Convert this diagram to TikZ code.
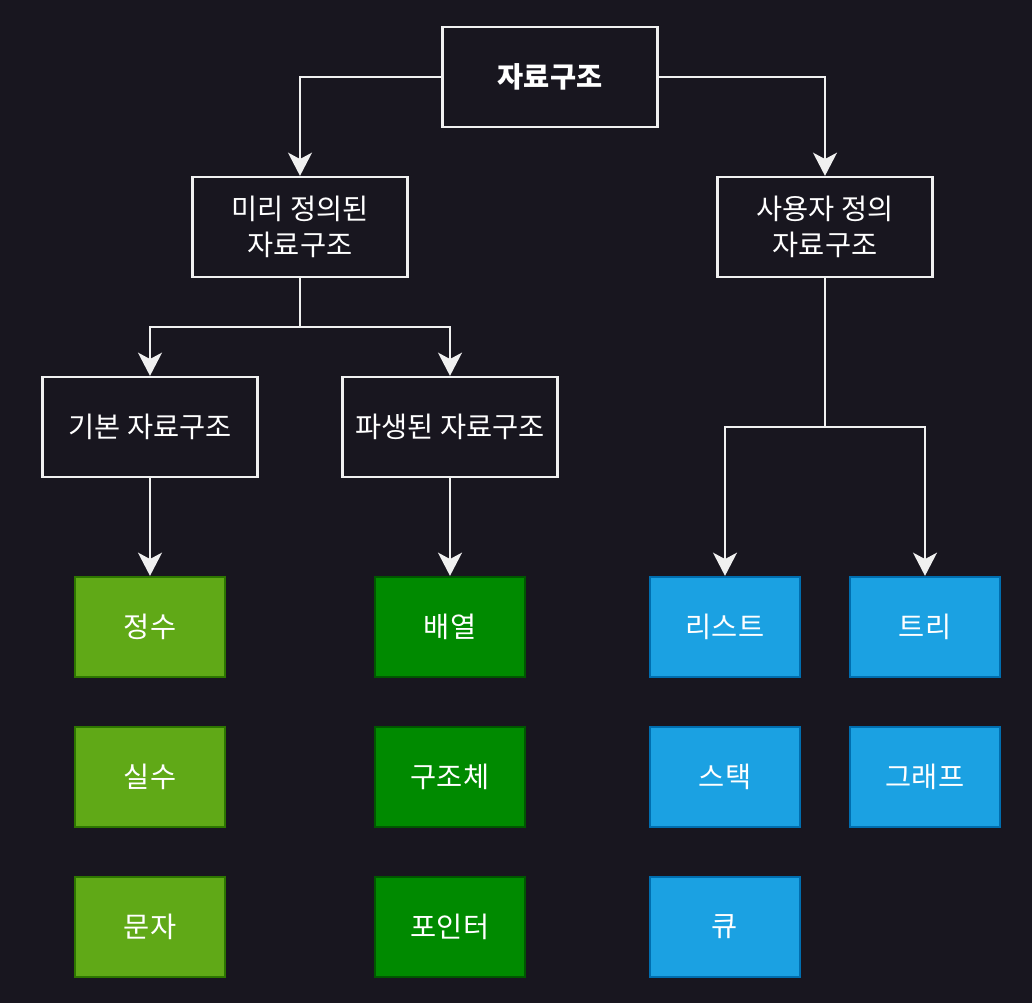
\documentclass[tikz,border=0pt]{standalone}
\usepackage{fontspec}
\setmainfont{Noto Sans CJK KR}
\usetikzlibrary{arrows.meta}

\definecolor{bg}{HTML}{18161F}
\definecolor{linec}{HTML}{F0F0F0}
\definecolor{lgreen}{HTML}{60A917}
\definecolor{lgreenb}{HTML}{2D7600}
\definecolor{dgreen}{HTML}{008A00}
\definecolor{dgreenb}{HTML}{005700}
\definecolor{lblue}{HTML}{1BA1E2}
\definecolor{lblueb}{HTML}{006EAF}

\tikzset{
  box/.style={rectangle,draw=linec,line width=1.6pt,text=white,align=center,
    minimum width=5.375cm,minimum height=2.5cm,font=\fontsize{20.2}{26}\selectfont},
  leaf/.style={box,minimum width=3.75cm},
  basic/.style={leaf,fill=lgreen,draw=lgreenb},
  derived/.style={leaf,fill=dgreen,draw=dgreenb},
  user/.style={leaf,fill=lblue,draw=lblueb},
  link/.style={draw=linec,line width=1.5pt,-{Stealth[length=0.58cm,width=0.6cm,inset=0.16cm]}}
}

\begin{document}
\begin{tikzpicture}[x=0.025cm,y=-0.025cm]
\fill[bg] (0,0) rectangle (1032,1003);

\node[box,font=\fontsize{20.2}{26}\selectfont\bfseries] (ds) at (550,77) {자료구조};
\node[box] (pre) at (300,227) {미리 정의된\\자료구조};
\node[box] (usr) at (825,227) {사용자 정의\\자료구조};
\node[box] (prim) at (150,427) {기본 자료구조};
\node[box] (der) at (450,427) {파생된 자료구조};

\node[basic] (int) at (150,627) {정수};
\node[basic] (real) at (150,777) {실수};
\node[basic] (char) at (150,927) {문자};
\node[derived] (arr) at (450,627) {배열};
\node[derived] (struct) at (450,777) {구조체};
\node[derived] (ptr) at (450,927) {포인터};
\node[user] (list) at (725,627) {리스트};
\node[user] (tree) at (925,627) {트리};
\node[user] (stack) at (725,777) {스택};
\node[user] (graph) at (925,777) {그래프};
\node[user] (queue) at (725,927) {큐};

\coordinate (j1) at (300,327);
\coordinate (j2) at (825,427);

\draw[link] (ds.west) -| (pre.north);
\draw[link] (ds.east) -| (usr.north);
\draw[draw=linec,line width=1.5pt] (pre.south) -- (j1);
\draw[link] (j1) -| (prim.north);
\draw[link] (j1) -| (der.north);
\draw[draw=linec,line width=1.5pt] (usr.south) -- (j2);
\draw[link] (j2) -| (list.north);
\draw[link] (j2) -| (tree.north);
\draw[link] (prim.south) -- (int.north);
\draw[link] (der.south) -- (arr.north);
\end{tikzpicture}
\end{document}
